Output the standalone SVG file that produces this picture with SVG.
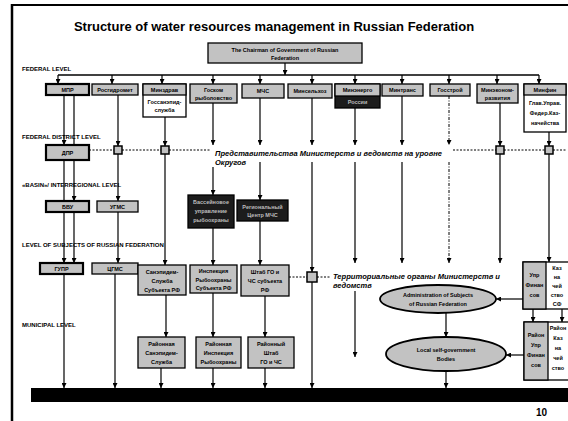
<svg xmlns="http://www.w3.org/2000/svg" width="568" height="421" viewBox="0 0 568 421">
<defs>
<marker id="ah" viewBox="0 0 6 6" refX="6" refY="3" markerWidth="5" markerHeight="5" orient="auto" markerUnits="userSpaceOnUse"><path d="M0,0 L6,3 L0,6 z" fill="#000"/></marker>
<style>
.g{fill:#c2c2c2;stroke:#000;stroke-width:1.3}
.gt{fill:#c2c2c2;stroke:#000;stroke-width:2.2}
.d{fill:#1c1c1c;stroke:#000;stroke-width:1.3}
.w{fill:#fff;stroke:#000;stroke-width:1.3}
.sq{fill:#c2c2c2;stroke:#000;stroke-width:1.5}
.el{fill:#c2c2c2;stroke:#000;stroke-width:1.8}
text{font-family:"Liberation Sans",Arial,sans-serif;font-weight:bold}
.t{font-size:5.5px;text-anchor:middle;fill:#000}
.tl{font-size:5.5px;text-anchor:middle;fill:#bdbdbd}
.lv{font-size:6px}
.it{font-size:7.5px;font-style:italic}
.c line{stroke:#000;stroke-width:1.2;marker-end:url(#ah)}
.c line.n{marker-end:none}
.c line.dash{stroke-dasharray:3,1.5,1,1.5;stroke-width:1}
.c line.dot{stroke-dasharray:2,1.5;stroke-width:1;marker-end:none}
</style>
</defs>
<rect width="568" height="421" fill="#fff"/>
<line x1="12" y1="5" x2="568" y2="5" stroke="#000" stroke-width="2"/>
<line x1="12" y1="4" x2="12" y2="421" stroke="#000" stroke-width="2.5"/>
<text x="274" y="31" font-size="13" text-anchor="middle">Structure of water resources management in Russian Federation</text>
<g id="levels">
<text class="lv" x="22" y="71">FEDERAL LEVEL</text>
<text class="lv" x="22" y="139">FEDERAL DISTRICT LEVEL</text>
<text class="lv" x="22" y="187">«BASIN»/ INTERREGIONAL LEVEL</text>
<text class="lv" x="22" y="247">LEVEL OF SUBJECTS OF RUSSIAN FEDERATION</text>
<text class="lv" x="22" y="327">MUNICIPAL LEVEL</text>
</g>
<g class="c" id="connectors">
<line x1="285" y1="63" x2="285" y2="75"/>
<line class="n" x1="58" y1="75" x2="539" y2="75" style="stroke-width:1.6"/>
<line x1="58" y1="75" x2="58" y2="84"/>
<line x1="112" y1="75" x2="112" y2="84"/>
<line x1="162" y1="75" x2="162" y2="84"/>
<line x1="213" y1="75" x2="213" y2="84"/>
<line x1="260" y1="75" x2="260" y2="84"/>
<line x1="312" y1="75" x2="312" y2="84"/>
<line x1="355" y1="75" x2="355" y2="84"/>
<line x1="402" y1="75" x2="402" y2="84"/>
<line x1="449" y1="75" x2="449" y2="84"/>
<line x1="497" y1="75" x2="497" y2="84"/>
<line x1="539" y1="75" x2="539" y2="84"/>
<line x1="64" y1="94" x2="64" y2="145"/>
<line x1="64" y1="160" x2="64" y2="263"/>
<line x1="74" y1="94" x2="74" y2="201"/>
<line x1="74" y1="212" x2="74" y2="263"/>
<line x1="118" y1="94" x2="118" y2="146"/>
<line x1="118" y1="154" x2="118" y2="201"/>
<line x1="118" y1="212" x2="118" y2="263"/>
<line x1="165" y1="117" x2="165" y2="146"/>
<line x1="165" y1="154" x2="165" y2="265"/>
<line x1="213" y1="103" x2="213" y2="145"/>
<line x1="213" y1="167" x2="213" y2="195"/>
<line x1="213" y1="228" x2="213" y2="265"/>
<line x1="213" y1="293" x2="213" y2="337"/>
<line x1="260" y1="98" x2="260" y2="145"/>
<line x1="260" y1="162" x2="260" y2="200"/>
<line x1="260" y1="221" x2="260" y2="265"/>
<line x1="265" y1="296" x2="265" y2="337"/>
<line x1="312" y1="98" x2="312" y2="145"/>
<line x1="312" y1="162" x2="312" y2="272"/>
<line x1="312" y1="282" x2="312" y2="388"/>
<line x1="355" y1="108" x2="355" y2="145"/>
<line x1="355" y1="162" x2="355" y2="263"/>
<line x1="355" y1="291" x2="355" y2="357"/>
<line x1="402" y1="96" x2="402" y2="145"/>
<line x1="402" y1="162" x2="402" y2="263"/>
<line class="dash" x1="449" y1="96" x2="449" y2="145"/>
<line class="dash" x1="449" y1="162" x2="449" y2="263"/>
<line x1="500" y1="103" x2="500" y2="146"/>
<line x1="500" y1="154" x2="500" y2="263"/>
<line x1="549" y1="132" x2="549" y2="146"/>
<line x1="549" y1="154" x2="549" y2="262"/>
<line x1="64" y1="274" x2="64" y2="388"/>
<line x1="115" y1="274" x2="115" y2="388"/>
<line x1="166" y1="295" x2="166" y2="337"/>
<line x1="161" y1="368" x2="161" y2="388"/>
<line x1="213" y1="368" x2="213" y2="388"/>
<line x1="265" y1="368" x2="265" y2="388"/>
<line x1="446" y1="313" x2="446" y2="337"/>
<line x1="446" y1="371" x2="446" y2="388"/>
<line x1="523" y1="299" x2="496" y2="299"/>
<line x1="524" y1="355" x2="506" y2="355"/>
<line x1="533" y1="309" x2="533" y2="322"/>
<line x1="562" y1="309" x2="562" y2="322"/>
<line class="dot" x1="89" y1="150" x2="114" y2="150"/>
<line class="dot" x1="122" y1="150" x2="161" y2="150"/>
<line class="dot" x1="169" y1="150" x2="210" y2="150"/>
<line class="dot" x1="453" y1="150" x2="496" y2="150"/>
<line class="dot" x1="504" y1="150" x2="545" y2="150"/>
<line class="dot" x1="553" y1="150" x2="566" y2="150"/>
<line class="dot" x1="289" y1="277" x2="307" y2="277"/>
<line class="dot" x1="317" y1="277" x2="330" y2="277"/>
</g>
<g id="chairman"><rect class="g" x="208" y="43" width="154" height="20"/><text class="t" x="285" y="51.5" font-size="6">The Chairman of Government of Russian</text><text class="t" x="285" y="59.5">Federation</text></g>
<g id="mpr"><rect class="gt" x="46" y="84" width="43" height="11"/><text class="t" x="67.5" y="91.5">МПР</text></g>
<g id="rosgidromet"><rect class="g" x="92" y="84" width="46" height="11"/><text class="t" x="115" y="91.5">Росгидромет</text></g>
<g id="minzdrav"><rect class="w" x="143" y="84" width="43" height="33"/><rect class="g" x="143" y="84" width="43" height="11"/><text class="t" x="164.5" y="91.5">Минздрав</text><text class="t" x="164.5" y="104">Госсанэпид-</text><text class="t" x="164.5" y="112">служба</text></g>
<g id="goskomryb"><rect class="g" x="190" y="84" width="47" height="19"/><text class="t" x="213.5" y="92">Госком</text><text class="t" x="213.5" y="99.5">рыболовство</text></g>
<g id="mchs"><rect class="g" x="242" y="84" width="42" height="14"/><text class="t" x="263" y="93">МЧС</text></g>
<g id="minselhoz"><rect class="g" x="288" y="84" width="44" height="14"/><text class="t" x="310" y="93">Минсельхоз</text></g>
<g id="minenergo"><rect class="d" x="335" y="84" width="45" height="24"/><rect class="g" x="335" y="84" width="45" height="12"/><text class="t" x="357.5" y="92">Минэнерго</text><text class="tl" x="357.5" y="104">России</text></g>
<g id="mintrans"><rect class="g" x="382" y="84" width="41" height="12"/><text class="t" x="402.5" y="92">Минтранс</text></g>
<g id="gosstroy"><rect class="g" x="430" y="84" width="40" height="12"/><text class="t" x="450" y="92">Госстрой</text></g>
<g id="minekonom"><rect class="g" x="477" y="84" width="41" height="19"/><text class="t" x="497.5" y="92">Минэконом-</text><text class="t" x="497.5" y="99.5">развития</text></g>
<g id="minfin"><rect class="w" x="524" y="84" width="42" height="48"/><rect class="g" x="524" y="84" width="42" height="11"/><text class="t" x="545" y="91.5">Минфин</text><text class="t" x="545" y="105" font-size="6">Глав.Управ.</text><text class="t" x="545" y="115" font-size="6">Федер.Каз-</text><text class="t" x="545" y="125" font-size="6">начейства</text></g>
<g id="dpr"><rect class="gt" x="46" y="145" width="43" height="15"/><text class="t" x="67.5" y="154.5">ДПР</text></g>
<g id="squares"><rect class="sq" x="114" y="146" width="8" height="8"/><rect class="sq" x="161" y="146" width="8" height="8"/><rect class="sq" x="496" y="146" width="8" height="8"/><rect class="sq" x="545" y="146" width="8" height="8"/><rect class="sq" x="307" y="272" width="10" height="10"/></g>
<g id="predst"><text class="it" x="215" y="156" textLength="227" lengthAdjust="spacingAndGlyphs">Представительства Министерств и ведомств на уровне</text><text class="it" x="215" y="165">Округов</text></g>
<g id="bvu"><rect class="gt" x="46" y="201" width="43" height="11"/><text class="t" x="67.5" y="208.5">БВУ</text></g>
<g id="ugms"><rect class="g" x="97" y="201" width="41" height="11"/><text class="t" x="117.5" y="208.5">УГМС</text></g>
<g id="basryb"><rect class="d" x="188" y="195" width="46" height="33"/><text class="tl" x="211" y="204">Бассейновое</text><text class="tl" x="211" y="213">управление</text><text class="tl" x="211" y="222">рыбоохраны</text></g>
<g id="regmchs"><rect class="d" x="237" y="200" width="51" height="21"/><text class="tl" x="262.5" y="208.5">Региональный</text><text class="tl" x="262.5" y="216.5">Центр МЧС</text></g>
<g id="gupr"><rect class="gt" x="40" y="263" width="43" height="11"/><text class="t" x="61.5" y="270.5">ГУПР</text></g>
<g id="cgms"><rect class="g" x="92" y="263" width="46" height="11"/><text class="t" x="115" y="270.5">ЦГМС</text></g>
<g id="sanepid"><rect class="g" x="138" y="265" width="48" height="30"/><text class="t" x="162" y="274">Санэпидем-</text><text class="t" x="162" y="283">Служба</text><text class="t" x="162" y="292">Субъекта РФ</text></g>
<g id="rybsubj"><rect class="g" x="190" y="265" width="47" height="28"/><text class="t" x="213.5" y="273">Инспекция</text><text class="t" x="213.5" y="281.5">Рыбоохраны</text><text class="t" x="213.5" y="290">Субъекта РФ</text></g>
<g id="shtab"><rect class="g" x="241" y="265" width="48" height="31"/><text class="t" x="265" y="274">Штаб ГО и</text><text class="t" x="265" y="283">ЧС субъекта</text><text class="t" x="265" y="292">РФ</text></g>
<g id="terr"><text class="it" x="333" y="279" textLength="167" lengthAdjust="spacingAndGlyphs">Территориальные органы Министерств и</text><text class="it" x="333" y="288">ведомств</text></g>
<g id="admsubj"><ellipse class="el" cx="438" cy="299" rx="58" ry="14"/><text class="t" x="438" y="297" font-size="6">Administration of Subjects</text><text class="t" x="438" y="306" font-size="6">of Russian Federation</text></g>
<g id="localgov"><ellipse class="el" cx="446" cy="354" rx="60" ry="17"/><text class="t" x="446" y="352" font-size="6">Local self-government</text><text class="t" x="446" y="361" font-size="6">Bodies</text></g>
<g id="upfin"><rect class="w" x="523" y="262" width="46" height="47"/><rect class="g" x="523" y="262" width="23" height="47"/><text class="t" x="534.5" y="277">Упр</text><text class="t" x="534.5" y="287">Финан</text><text class="t" x="534.5" y="297">сов</text><text class="t" x="557" y="270">Каз</text><text class="t" x="557" y="279">на</text><text class="t" x="557" y="288">чей</text><text class="t" x="557" y="297">ство</text><text class="t" x="557" y="306">СФ</text></g>
<g id="raifin"><rect class="w" x="524" y="322" width="45" height="58"/><rect class="g" x="524" y="322" width="24" height="58"/><text class="t" x="536" y="337">Район</text><text class="t" x="536" y="347">Упр</text><text class="t" x="536" y="357">Финан</text><text class="t" x="536" y="367">сов</text><text class="t" x="558" y="330">Район</text><text class="t" x="558" y="340">Каз</text><text class="t" x="558" y="350">на</text><text class="t" x="558" y="360">чей</text><text class="t" x="558" y="370">ство</text></g>
<g id="raisanepid"><rect class="g" x="138" y="337" width="47" height="31"/><text class="t" x="161.5" y="346">Районная</text><text class="t" x="161.5" y="355">Санэпидем-</text><text class="t" x="161.5" y="364">Служба</text></g>
<g id="rairyb"><rect class="g" x="196" y="337" width="45" height="31"/><text class="t" x="218.5" y="346">Районная</text><text class="t" x="218.5" y="355">Инспекция</text><text class="t" x="218.5" y="364">Рыбоохраны</text></g>
<g id="raishtab"><rect class="g" x="248" y="337" width="46" height="31"/><text class="t" x="271" y="346">Районный</text><text class="t" x="271" y="355">Штаб</text><text class="t" x="271" y="364">ГО и ЧС</text></g>
<g id="bar"><rect x="31" y="388" width="537" height="14" fill="#000"/></g>
<text x="536" y="416" font-size="10">10</text>
</svg>
